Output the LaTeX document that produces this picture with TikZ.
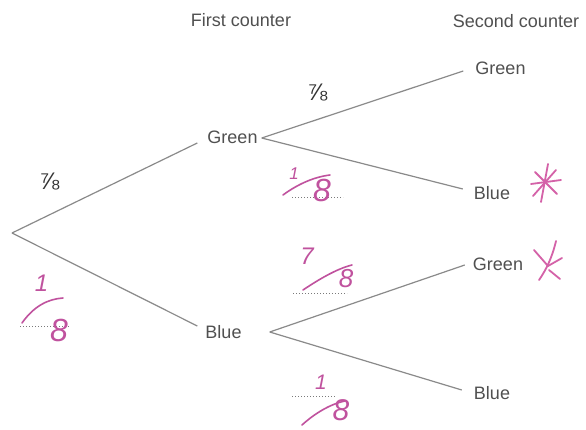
\documentclass[tikz,border=0pt]{standalone}
\usepackage{fontspec}
\setmainfont{Liberation Sans}
\definecolor{txtgray}{HTML}{505050}
\definecolor{linegray}{HTML}{8A8A8A}
\definecolor{fracgray}{HTML}{333333}
\definecolor{handpink}{HTML}{C0529E}
\definecolor{starpink}{HTML}{D462A8}
\definecolor{dotgray}{HTML}{7A7A7A}
\begin{document}
\begin{tikzpicture}[x=1pt,y=-1pt,
  lbl/.style={text=txtgray,font=\fontsize{18}{20}\selectfont,inner sep=0pt},
  prob/.style={text=fracgray,inner sep=0pt,font=\fontsize{24}{24}\selectfont},
  branch/.style={draw=linegray,line width=1.2pt},
  hand/.style={text=handpink,inner sep=0pt,font=\itshape\fontsize{#1}{#1}\selectfont},
  handline/.style={draw=handpink,line width=1.6pt,line cap=round},
  starline/.style={draw=starpink,line width=1.8pt,line cap=round},
  dots/.style={draw=dotgray,dotted,line width=1pt}]
\useasboundingbox[fill=white] (0,0) rectangle (586,430);

% headings
\node[lbl] (h1) at (241,20) {First counter};
\node[lbl] (h2) at (516,21) {Second counter};

% tree nodes
\coordinate (root) at (12,233);
\node[lbl] (g1) at (232.5,137) {Green};
\node[lbl] (b1) at (223.5,332) {Blue};
\node[lbl] (gg) at (500.5,68.5) {Green};
\node[lbl] (gb) at (492,193) {Blue};
\node[lbl] (bg) at (498,264) {Green};
\node[lbl] (bb) at (492,393) {Blue};

% branches
\draw[branch] (root) -- ([shift={(-10,6)}]g1.west);
\draw[branch] (root) -- ([shift={(-8,-6)}]b1.west);
\draw[branch] ([shift={(4,1)}]g1.east) -- ([shift={(-12,2.5)}]gg.west);
\draw[branch] ([shift={(4,1)}]g1.east) -- ([shift={(-11,-4)}]gb.west);
\draw[branch] ([shift={(28,0)}]b1.east) -- ([shift={(-8,1)}]bg.west);
\draw[branch] ([shift={(28,0)}]b1.east) -- ([shift={(-12,-3)}]bb.west);

% printed probabilities
\node[prob] (p1) at (49.5,181.5) {⅞};
\node[prob] (p2) at (317.5,93) {⅞};

% handwritten 1/8 (left)
\node[hand=24] (l1) at (41.5,283) {1};
\draw[handline] (22,323) .. controls (34,306) and (48,299) .. (63,298);
\draw[dots] (20,326) -- (70,326);
\node[hand=32] (l8) at (59,330) {8};

% handwritten 1/8 (upper middle)
\node[hand=17] (m1) at (294,174) {1};
\draw[handline] (283,195) .. controls (298,184) and (314,177) .. (330,175);
\draw[dots] (292,198) -- (343,198);
\node[hand=32] (m8) at (322,190) {8};

% handwritten 7/8 (middle)
\node[hand=24] (n7) at (307,256) {7};
\draw[handline] (303,290) .. controls (318,280) and (336,269) .. (352,265);
\draw[dots] (293,293) -- (347,293);
\node[hand=26] (n8) at (346,279) {8};

% handwritten 1/8 (bottom)
\node[hand=21] (k1) at (321,382) {1};
\draw[dots] (292,396) -- (335,396);
\draw[handline] (302,425) .. controls (314,414) and (330,404) .. (345,401);
\node[hand=30] (k8) at (341,410) {8};

% asterisks
\draw[starline] (548,164) -- (541,202);
\draw[starline] (531,184) -- (561,180);
\draw[starline] (535,172) -- (557,194);
\draw[starline] (556,170) -- (533,196);
\draw[starline] (556,241) .. controls (552,258) and (546,270) .. (539,280);
\draw[starline] (534,250) -- (548,266);
\draw[starline] (548,266) -- (562,258);
\draw[starline] (549,270) -- (560,279);
\end{tikzpicture}
\end{document}
